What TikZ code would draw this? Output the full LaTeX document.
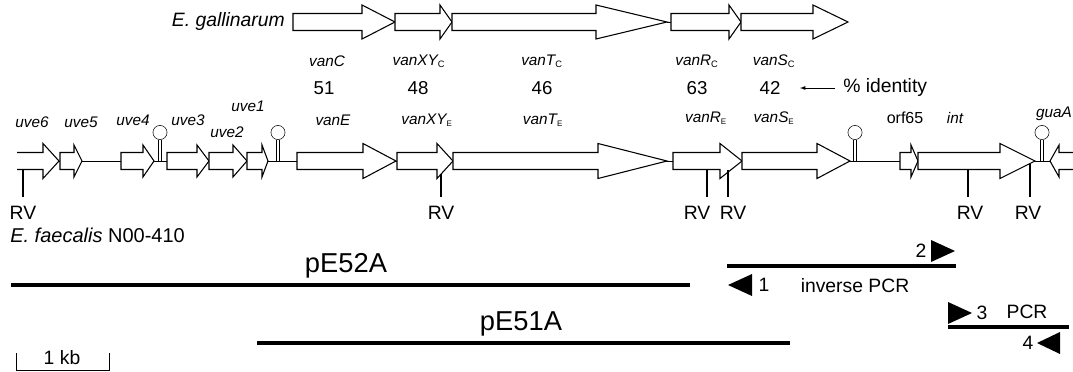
\documentclass[tikz,border=0pt]{standalone}
\usepackage{fontspec}
\setmainfont{Liberation Sans}
\newcommand{\garrow}[6]{\draw[gene] (#1,#4-#5) -- (#2,#4-#5) -- (#2,#4-#6) -- (#3,#4) -- (#2,#4+#6) -- (#2,#4+#5) -- (#1,#4+#5) -- cycle;}
\newcommand{\stemloop}[2]{\draw[thin] (#1-1.7,#2) -- (#1-1.7,#2-21.5); \draw[thin] (#1+1.7,#2) -- (#1+1.7,#2-21.5); \draw[thin,fill=white] (#1,#2-28.5) circle[radius=5.3pt];}
\newcommand{\sbE}{\textsubscript{\upshape\fontsize{6}{6}\selectfont E}}
\newcommand{\sbC}{\textsubscript{\upshape\fontsize{7}{7}\selectfont C}}
\begin{document}
\begin{tikzpicture}[x=0.75pt,y=-0.75pt,
  gene/.style={draw=black, fill=white, line width=0.8pt, line join=miter},
  glab/.style={font=\fontsize{11.5}{12}\selectfont\itshape, inner sep=0pt},
  num/.style={font=\fontsize{14}{15}\selectfont, inner sep=0pt},
  rv/.style={font=\fontsize{14.5}{15}\selectfont, inner sep=0pt},
  txt/.style={font=\fontsize{14.5}{15}\selectfont, inner sep=0pt},
  big/.style={font=\fontsize{20.5}{21}\selectfont, inner sep=0pt},
  tick/.style={line width=0.9pt},
  frag/.style={line width=2.4pt},
  primer/.style={fill=black, draw=none}]
\useasboundingbox (0,0) rectangle (1073,371);
% ---------- E. gallinarum row ----------
\node[txt, anchor=east] (egal) at (285,22) {\itshape E. gallinarum};
\draw[thin] (667,22) -- (671,22);
\garrow{293}{362}{395}{22}{8.5}{17}
\garrow{395}{440}{452}{22}{8.5}{17}
\garrow{452}{596}{667}{22}{8.5}{17}
\garrow{671}{729}{741}{22}{8.5}{17}
\garrow{741}{813}{848}{22}{8.5}{17}
\node[glab] (vanC) at (327,61) {vanC};
\node[glab] (vanXYc) at (419,61) {vanXY\sbC};
\node[glab] (vanTc) at (542,61) {vanT\sbC};
\node[glab] (vanRc) at (697,61) {vanR\sbC};
\node[glab] (vanSc) at (774,61) {vanS\sbC};
\node[num] (n51) at (324,88) {51};
\node[num] (n48) at (418,88) {48};
\node[num] (n46) at (542,88) {46};
\node[num] (n63) at (697,88) {63};
\node[num] (n42) at (770,88) {42};
\node[txt, anchor=west] (pid) at (843,88) {\% identity};
\coordinate (arrS) at (835,88);
\coordinate (arrE) at (800,88);
\draw[thin,-latex] (arrS) -- (arrE);
% ---------- E. faecalis row ----------
\draw[thin] (59,161) -- (1073,161);
% genes
\draw[gene,fill=white] (17,161-8.5) -- (43,161-8.5) -- (43,161-17.5) -- (59,161) -- (43,161+17.5) -- (43,161+8.5) -- (17,161+8.5);
\garrow{60}{74}{82}{161}{8.5}{16}
\garrow{121}{143}{154}{161}{8.5}{16}
\garrow{167}{197}{209}{161}{8.5}{16}
\garrow{209}{233}{247}{161}{8.5}{16}
\garrow{247}{262}{268}{161}{8.5}{16}
\garrow{297}{363}{396}{161}{8.5}{17.5}
\garrow{397}{437}{453}{161}{8.5}{17.5}
\garrow{453}{598}{667}{161}{8.5}{17.5}
\garrow{673}{720}{742}{161}{8.5}{17.5}
\garrow{742}{817}{850}{161}{8.5}{17.5}
\garrow{900}{911}{918}{161}{8.5}{16}
\garrow{918}{1000}{1035}{161}{8.5}{17.5}
\draw[gene] (1073,161-8.5) -- (1059,161-8.5) -- (1059,161-16) -- (1050,161) -- (1059,161+16) -- (1059,161+8.5) -- (1073,161+8.5);
% RV ticks, starting at the gene outlines
\draw[tick] (23,169.5) -- (23,197);
\draw[tick] (441,174) -- (441,197);
\draw[tick] (707,169.5) -- (707,197);
\draw[tick] (728,170) -- (728,197);
\draw[tick] (968,169.5) -- (968,197);
\draw[tick] (1030,164) -- (1030,197);
% stem loops
\stemloop{160}{161}
\stemloop{278}{161}
\stemloop{855}{161}
\stemloop{1042}{161}
% labels
\node[glab] (uve6) at (32,122) {uve6};
\node[glab] (uve5) at (81,122) {uve5};
\node[glab] (uve4) at (133,120) {uve4};
\node[glab] (uve3) at (188,120) {uve3};
\node[glab] (uve2) at (227,132) {uve2};
\node[glab] (uve1) at (248,106) {uve1};
\node[glab] (vanE) at (333,120) {vanE};
\node[glab] (vanXYE) at (427,120) {vanXY\sbE};
\node[glab] (vanTE) at (543,120) {vanT\sbE};
\node[glab] (vanRE) at (706,118) {vanR\sbE};
\node[glab] (vanSE) at (774,118) {vanS\sbE};
\node[glab, font=\fontsize{12}{12}\selectfont\upshape] (orf65) at (905,118) {orf65};
\node[glab] (int) at (955,118) {int};
\node[glab] (guaA) at (1054,114) {guaA};
\node[rv] (rv1) at (23,213) {RV};
\node[rv] (rv2) at (441,213) {RV};
\node[rv] (rv3) at (697,213) {RV};
\node[rv] (rv4) at (733,213) {RV};
\node[rv] (rv5) at (970,213) {RV};
\node[rv] (rv6) at (1028,213) {RV};
\node[txt, font=\fontsize{15}{15}\selectfont, anchor=west] (efae) at (10,235) {\itshape E. faecalis\/\upshape{} N00-410};
% ---------- clones ----------
\node[big] (p52) at (346,266) {pE52A};
\coordinate (p52a) at (11,285);
\coordinate (p52b) at (690,285);
\draw[frag] (p52a) -- (p52b);
\node[big] (p51) at (521,324) {pE51A};
\coordinate (p51a) at (257,343);
\coordinate (p51b) at (790,343);
\draw[frag] (p51a) -- (p51b);
% inverse PCR
\coordinate (ipa) at (727,266);
\coordinate (ipb) at (956,266);
\draw[frag] (ipa) -- (ipb);
\fill[primer] (931,240) -- (955,251) -- (931,262) -- cycle;
\node[txt] (l2) at (921,251) {2};
\fill[primer] (752,274) -- (728,285) -- (752,296) -- cycle;
\node[txt] (l1) at (764,285) {1};
\node[txt] (ipcr) at (855,286) {inverse PCR};
% PCR
\coordinate (pca) at (948,327);
\coordinate (pcb) at (1069,327);
\draw[frag] (pca) -- (pcb);
\fill[primer] (948,302) -- (972,313) -- (948,324) -- cycle;
\node[txt] (l3) at (982,313) {3};
\node[txt] (pcr) at (1027,312) {PCR};
\fill[primer] (1060,332) -- (1037,343) -- (1060,354) -- cycle;
\node[txt] (l4) at (1028,343) {4};
% scale bar
\coordinate (sba) at (16,353);
\coordinate (sbb) at (109,353);
\draw[thin] (sba) -- (16,370) -- (109,370) -- (sbb);
\node[txt] (kb) at (62,358) {1 kb};
\end{tikzpicture}
\end{document}
